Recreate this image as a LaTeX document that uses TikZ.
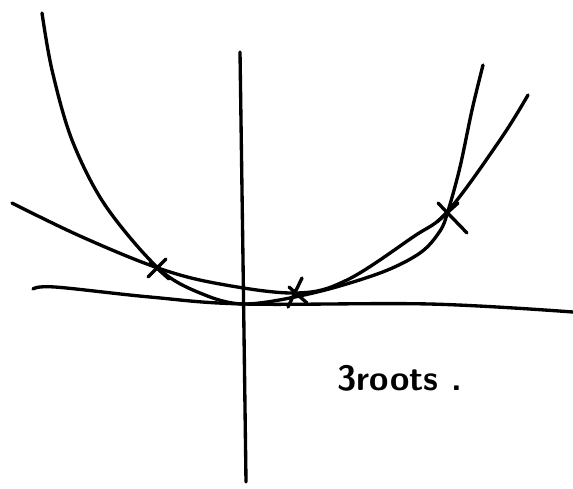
\documentclass[tikz,border=0pt]{standalone}
\usepackage{tikz}
\usetikzlibrary{positioning}
\begin{document}
\begin{tikzpicture}[x=0.02cm,y=-0.02cm,line cap=round,line join=round,
    pen/.style={line width=1.9pt},
    xmark/.style={line width=1.9pt}]
    \useasboundingbox (0,0) rectangle (573,488);
    \coordinate (r1) at (158,268);
    \coordinate (r2) at (297,293);
    \coordinate (r3) at (448,211);
    % axes
    \draw[pen] (240,52) -- (243,260) -- (246,482);
    \draw[pen] plot[smooth,tension=0.6] coordinates {(33,289) (55,287) (150,297) (245,304) (430,304) (573,312)};
    % steep curve
    \draw[pen] plot[smooth,tension=0.55] coordinates {(42,13) (52,70) (72,140) (105,205) (r1) (200,293) (245,304) (313,293) (380,273) (420,253) (440,231) (r3) (460,167) (472,110) (483,65)};
    % flatter curve
    \draw[pen] plot[smooth,tension=0.6] coordinates {(12,203) (80,236) (r1) (220,284) (r2) (347,280) (413,237) (r3) (500,140) (528,95)};
    % crossings
    \draw[xmark] (148,277) -- (166,259) (150,262) -- (169,279);
    \draw[xmark] (302,278) -- (288,307) (289,287) -- (307,303);
    \draw[xmark] (437,222) -- (458,203) (438,203) -- (467,233);
    \node[font=\sffamily\bfseries\fontsize{20}{22}\selectfont,anchor=west,inner sep=0pt] (lbl) at (337,378) {3roots .};
\end{tikzpicture}
\end{document}
